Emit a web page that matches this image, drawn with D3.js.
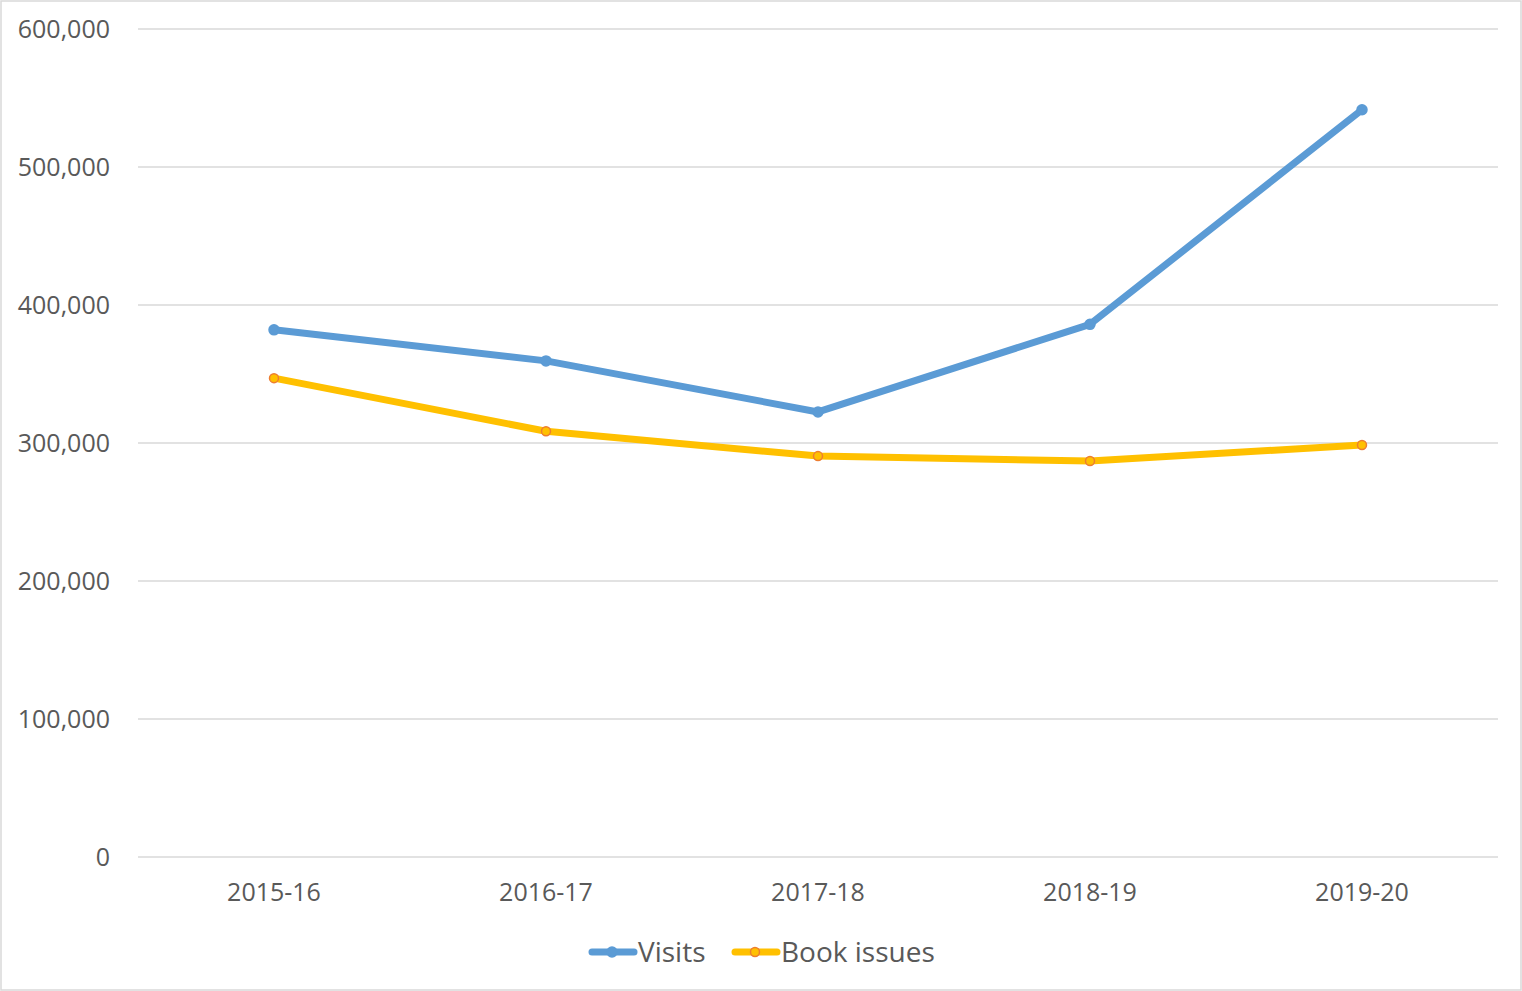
<!DOCTYPE html>
<html>
<head>
<meta charset="utf-8">
<script src="https://cdn.jsdelivr.net/npm/d3@7"></script>
<style>
  html, body { margin: 0; padding: 0; background: #fff; }
  svg { display: block; }
  svg text { font-family: "Open Sans", "Noto Sans", sans-serif; fill: #595959; }
</style>
</head>
<body>
<svg id="chart" width="1522" height="991"></svg>
<script>
const years = ["2015-16", "2016-17", "2017-18", "2018-19", "2019-20"];
const visits = [382000, 359500, 322500, 386000, 541500];
const bookIssues = [347000, 308500, 290500, 287000, 298500];
const yTicks = [0, 100000, 200000, 300000, 400000, 500000, 600000];

const svg = d3.select("#chart"),
  width = +svg.attr("width"),
  height = +svg.attr("height"),
  margin = { top: 29, right: 24, bottom: 134, left: 138 },
  plotWidth = width - margin.left - margin.right,
  plotHeight = height - margin.top - margin.bottom;

// outer chart border
svg.append("rect")
  .attr("x", 1).attr("y", 1)
  .attr("width", width - 2).attr("height", height - 2)
  .attr("fill", "#fff").attr("stroke", "#d9d9d9").attr("stroke-width", 1.5);

const g = svg.append("g").attr("transform", `translate(${margin.left},${margin.top})`);

const x = d3.scaleBand().domain(years).range([0, plotWidth]);
const y = d3.scaleLinear().domain([0, 600000]).range([plotHeight, 0]);
const fmt = d3.format(",");

// gridlines
g.append("g").selectAll("line").data(yTicks).join("line")
  .attr("x1", 0).attr("x2", plotWidth)
  .attr("y1", d => y(d)).attr("y2", d => y(d))
  .attr("stroke", "#d9d9d9").attr("stroke-width", 1.5);

const yAxis = g.append("g").call(d3.axisLeft(y).tickValues(yTicks).tickFormat(fmt).tickSize(0).tickPadding(28));
yAxis.select(".domain").remove();
yAxis.attr("font-family", null);
yAxis.selectAll("text").style("font-size", "25px");

const xAxis = g.append("g").attr("transform", `translate(0,${plotHeight})`)
  .call(d3.axisBottom(x).tickSize(0).tickPadding(26));
xAxis.select(".domain").remove();
xAxis.attr("font-family", null);
xAxis.selectAll("text").style("font-size", "25px");

const line = d3.line()
  .x((d, i) => x(years[i]) + x.bandwidth() / 2)
  .y(d => y(d));

const series = [
  { name: "Visits", values: visits, color: "#5b9bd5", fill: "#5b9bd5", stroke: "#5b9bd5", r: 5 },
  { name: "Book issues", values: bookIssues, color: "#ffc000", fill: "#ffc000", stroke: "#ed7d31", r: 4.5 }
];

series.forEach(s => {
  g.append("path")
    .datum(s.values)
    .attr("fill", "none")
    .attr("stroke", s.color)
    .attr("stroke-width", 7)
    .attr("stroke-linejoin", "round")
    .attr("stroke-linecap", "round")
    .attr("d", line);

  g.append("g").selectAll("circle").data(s.values).join("circle")
    .attr("cx", (d, i) => x(years[i]) + x.bandwidth() / 2)
    .attr("cy", d => y(d))
    .attr("r", s.r)
    .attr("fill", s.fill)
    .attr("stroke", s.stroke)
    .attr("stroke-width", 1.5);
});

// legend
const legend = svg.append("g").attr("transform", "translate(589,952)");
const items = [
  { s: series[0], x: 0 },
  { s: series[1], x: 143 }
];
items.forEach(({ s, x: lx }) => {
  const it = legend.append("g").attr("transform", `translate(${lx},0)`);
  it.append("line")
    .attr("x1", 3).attr("x2", 45).attr("y1", 0).attr("y2", 0)
    .attr("stroke", s.color).attr("stroke-width", 7).attr("stroke-linecap", "round");
  it.append("circle")
    .attr("cx", 23).attr("cy", 0).attr("r", s.r)
    .attr("fill", s.fill).attr("stroke", s.stroke).attr("stroke-width", 1.5);
  it.append("text")
    .attr("x", 49).attr("y", 0).attr("dy", "0.35em")
    .style("font-size", "28px")
    .text(s.name);
});
</script>
</body>
</html>
